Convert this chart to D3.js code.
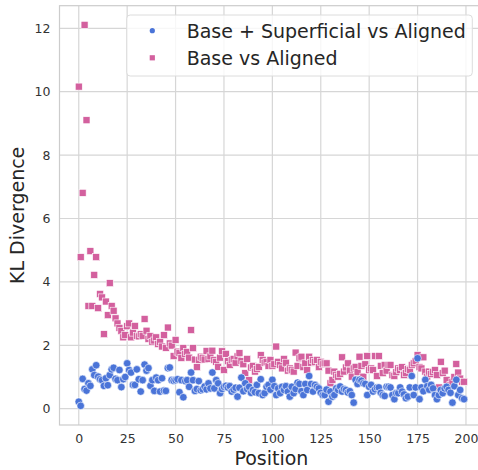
<!DOCTYPE html>
<html>
<head>
<meta charset="utf-8">
<script src="https://cdn.jsdelivr.net/npm/d3@7"></script>
<style>
  html, body { margin: 0; padding: 0; background: #ffffff; }
  svg { display: block; font-family: "DejaVu Sans", sans-serif; }
</style>
</head>
<body>
<svg id="chart" width="478" height="470"></svg>
<script>
// ---- data ----
const seriesNames = ["Base + Superficial vs Aligned", "Base vs Aligned"];
const xTicks = [0, 25, 50, 75, 100, 125, 150, 175, 200];
const yTicks = [0, 2, 4, 6, 8, 10, 12];

const baseSuperficial = [
  0.22, 0.09, 0.94, 0.62, 0.57, 0.80, 0.72, 1.24, 1.06, 1.37,
  1.01, 0.93, 0.90, 0.72, 0.96, 0.74, 1.06, 1.24, 1.29, 0.94,
  0.90, 1.22, 0.68, 0.93, 1.00, 1.43, 1.22, 1.14, 0.75, 0.75,
  1.24, 0.93, 0.54, 0.90, 1.39, 1.20, 1.28, 0.72, 0.90, 0.56,
  0.98, 0.90, 0.54, 0.96, 0.57, 0.56, 1.28, 1.30, 0.90, 0.88,
  0.90, 0.93, 0.52, 0.90, 0.36, 0.87, 0.90, 0.69, 1.14, 0.90,
  0.56, 0.62, 0.87, 0.58, 0.61, 0.70, 0.61, 0.80, 0.64, 1.14,
  0.64, 0.90, 0.80, 0.49, 0.62, 0.69, 0.72, 0.67, 0.71, 0.54,
  0.60, 0.66, 0.38, 0.66, 0.98, 0.55, 0.80, 0.62, 0.69, 0.50,
  0.59, 0.52, 0.75, 0.49, 0.93, 0.43, 0.49, 0.69, 0.75, 0.60,
  0.91, 0.71, 0.43, 0.64, 0.49, 0.69, 0.59, 0.71, 0.54, 0.38,
  0.69, 0.49, 0.62, 0.82, 0.78, 0.55, 0.43, 0.78, 0.59, 1.03,
  0.78, 0.54, 0.75, 0.69, 0.64, 0.50, 0.43, 0.43, 0.60, 0.22,
  0.54, 0.38, 0.43, 0.64, 0.59, 0.70, 0.54, 0.62, 0.59, 0.51,
  0.55, 0.43, 0.19, 0.91, 0.78, 0.91, 0.88, 0.80, 0.78, 0.43,
  0.69, 0.75, 0.54, 0.61, 0.67, 0.67, 0.50, 0.43, 0.40, 0.69,
  0.69, 0.67, 0.43, 0.30, 0.49, 0.49, 0.67, 0.54, 0.45, 0.33,
  0.38, 0.67, 1.03, 0.43, 0.67, 1.59, 0.30, 0.67, 0.55, 0.91,
  0.71, 0.60, 0.75, 0.64, 0.43, 0.30, 0.43, 0.59, 0.49, 0.64,
  0.69, 0.59, 0.50, 0.19, 0.71, 0.91, 0.43, 0.59, 0.33, 0.30
];

const baseAligned = [
  10.16, 4.78, 6.81, 12.11, 9.10, 3.24, 4.97, 3.24, 4.22, 4.78,
  3.17, 3.62, 3.51, 2.35, 3.38, 2.95, 3.96, 3.24, 3.09, 2.85,
  2.69, 2.55, 2.45, 2.25, 2.32, 2.60, 2.69, 2.25, 2.40, 2.61,
  2.30, 2.28, 2.35, 2.30, 2.83, 2.46, 2.20, 2.29, 2.11, 2.15,
  2.25, 2.04, 2.11, 1.96, 2.32, 1.92, 2.56, 2.06, 1.99, 1.66,
  2.17, 1.80, 1.75, 1.60, 1.91, 1.73, 1.79, 1.61, 2.48, 1.91,
  1.55, 1.31, 1.54, 1.64, 1.60, 1.55, 1.82, 1.57, 1.65, 1.83,
  1.54, 1.48, 1.32, 1.61, 1.81, 1.22, 1.73, 1.50, 1.38, 1.54,
  1.57, 1.45, 1.65, 1.75, 1.50, 1.40, 1.12, 1.57, 0.90, 1.30,
  1.35, 1.17, 1.25, 1.32, 1.69, 1.54, 1.45, 1.48, 1.35, 1.54,
  1.35, 1.40, 1.96, 1.48, 1.38, 1.27, 1.57, 1.45, 1.20, 1.27,
  1.22, 1.17, 1.77, 1.35, 1.59, 1.64, 1.31, 1.43, 1.22, 1.64,
  1.45, 1.54, 1.47, 1.54, 1.31, 1.48, 1.40, 1.43, 1.43, 1.20,
  0.80, 0.91, 1.17, 1.06, 1.01, 1.10, 1.62, 1.17, 1.30, 1.43,
  1.20, 1.01, 1.27, 1.32, 1.15, 1.64, 1.35, 1.01, 1.40, 1.66,
  1.22, 1.27, 1.22, 1.66, 1.03, 1.66, 1.35, 1.12, 1.38, 1.20,
  1.38, 1.38, 1.06, 1.03, 1.15, 1.27, 1.22, 1.31, 1.06, 1.12,
  1.25, 1.22, 1.38, 1.43, 1.50, 1.69, 1.31, 1.27, 1.62, 1.17,
  1.01, 1.17, 1.09, 1.15, 1.22, 1.06, 0.67, 1.48, 1.12, 1.20,
  0.91, 0.69, 0.75, 0.85, 1.00, 1.41, 1.14, 0.95, 0.85, 0.85
];

// ---- layout ----
const svg = d3.select("#chart");
const plot = { left: 59.5, top: 5.7, right: 483.3, bottom: 425 };
const blue = "#4a74d8";
const pink = "#d3609e";
const gridColor = "#d6d6d6";

const x = d3.scaleLinear().domain([-9.95, 208.95]).range([plot.left, plot.right]);
const y = d3.scaleLinear().domain([-0.515, 12.713]).range([plot.bottom, plot.top]);

// grid
const g = svg.append("g");
g.selectAll("line.vg").data(xTicks).join("line")
  .attr("x1", d => x(d)).attr("x2", d => x(d))
  .attr("y1", plot.top).attr("y2", plot.bottom)
  .attr("stroke", gridColor).attr("stroke-width", 1.2);
g.selectAll("line.hg").data(yTicks).join("line")
  .attr("x1", plot.left).attr("x2", plot.right)
  .attr("y1", d => y(d)).attr("y2", d => y(d))
  .attr("stroke", gridColor).attr("stroke-width", 1.2);

// frame
svg.append("rect")
  .attr("x", plot.left).attr("y", plot.top)
  .attr("width", plot.right - plot.left).attr("height", plot.bottom - plot.top)
  .attr("fill", "none").attr("stroke", "#cccccc").attr("stroke-width", 1.2);

// axes (labels only, seaborn whitegrid style: no tick marks)
const xAxis = d3.axisBottom(x).tickValues(xTicks).tickSize(0).tickPadding(9);
const yAxis = d3.axisLeft(y).tickValues(yTicks).tickSize(0).tickPadding(9);
const gx = svg.append("g").attr("transform", `translate(0,${plot.bottom})`).call(xAxis);
const gy = svg.append("g").attr("transform", `translate(${plot.left},0)`).call(yAxis);
[gx, gy].forEach(a => {
  a.select(".domain").remove();
  a.selectAll("text").attr("fill", "#333333").style("font-size", "12.5px")
    .style("font-family", "DejaVu Sans, sans-serif");
});

// axis titles
svg.append("text").attr("x", (plot.left + plot.right) / 2).attr("y", 465)
  .attr("text-anchor", "middle").attr("fill", "#262626")
  .style("font-size", "19px").text("Position");
svg.append("text")
  .attr("transform", `translate(24,${(plot.top + plot.bottom) / 2}) rotate(-90)`)
  .attr("text-anchor", "middle").attr("fill", "#262626")
  .style("font-size", "19px").text("KL Divergence");

// data points
svg.append("clipPath").attr("id", "clip").append("rect")
  .attr("x", plot.left).attr("y", plot.top)
  .attr("width", 478 - plot.left).attr("height", plot.bottom - plot.top);
const pts = svg.append("g").attr("clip-path", "url(#clip)");
const sq = 7;
pts.selectAll("rect.ba").data(baseAligned).join("rect")
  .attr("x", (d, i) => x(i) - sq / 2).attr("y", d => y(d) - sq / 2)
  .attr("width", sq).attr("height", sq)
  .attr("fill", pink).attr("stroke", "#ffffff").attr("stroke-width", 0.6);
pts.selectAll("circle.bs").data(baseSuperficial).join("circle")
  .attr("cx", (d, i) => x(i)).attr("cy", d => y(d)).attr("r", 3.8)
  .attr("fill", blue).attr("stroke", "#ffffff").attr("stroke-width", 0.6);

// legend
const leg = svg.append("g");
leg.append("rect").attr("x", 126.7).attr("y", 15).attr("width", 345.6).attr("height", 61)
  .attr("rx", 3.5).attr("fill", "#ffffff").attr("fill-opacity", 0.8)
  .attr("stroke", "#dcdcdc").attr("stroke-width", 1);
const rows = [{ name: seriesNames[0], shape: "circle", color: blue, cy: 30.7 },
              { name: seriesNames[1], shape: "square", color: pink, cy: 57.8 }];
rows.forEach(r => {
  if (r.shape === "circle") {
    leg.append("circle").attr("cx", 152.3).attr("cy", r.cy).attr("r", 2.6).attr("fill", r.color);
  } else {
    leg.append("rect").attr("x", 152.3 - 2.6).attr("y", r.cy - 2.6).attr("width", 5.2).attr("height", 5.2).attr("fill", r.color);
  }
  leg.append("text").attr("x", 186.7).attr("y", r.cy).attr("dy", "0.36em")
    .attr("fill", "#262626").style("font-size", "19px").text(r.name);
});
</script>
</body>
</html>
